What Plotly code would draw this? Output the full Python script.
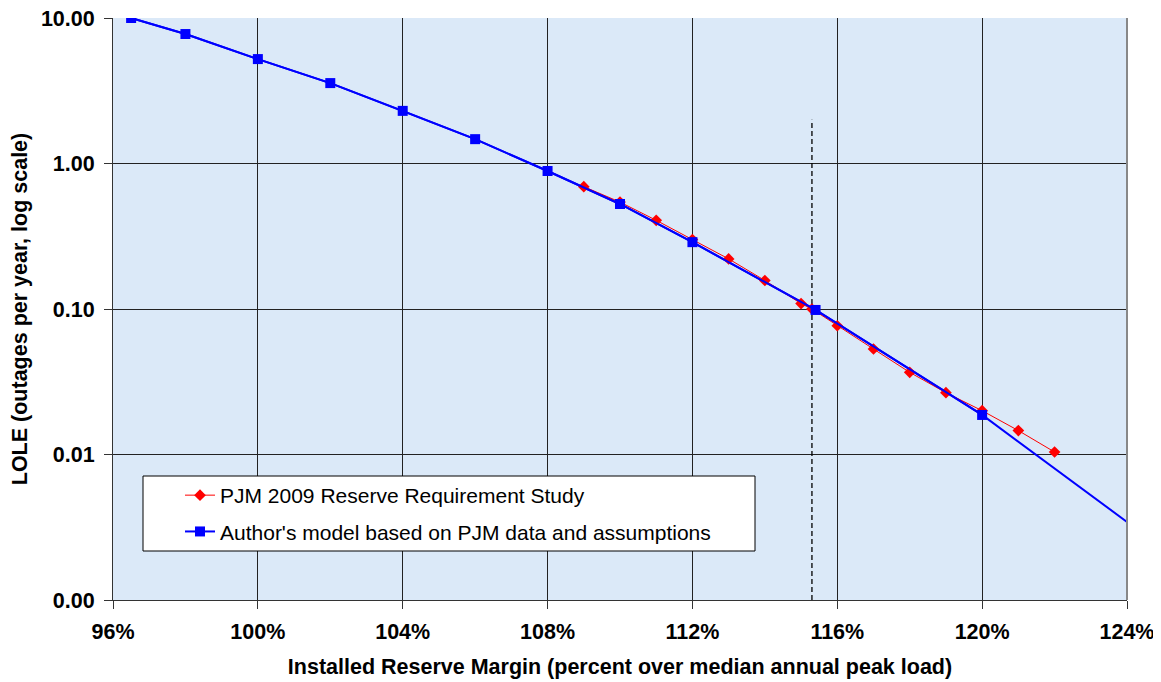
import plotly.graph_objects as go

# PJM 2009 Reserve Requirement Study (red diamonds)
pjm_x = [109, 110, 111, 112, 113, 114, 115, 115.3, 116, 117, 118, 119, 120, 121, 122]
pjm_y = [0.693, 0.543, 0.407, 0.300, 0.221, 0.157, 0.109, 0.100, 0.0767, 0.0531,
         0.0367, 0.0266, 0.0200, 0.0146, 0.0104]

# Author's model (blue squares)
model_x = [96.5, 98, 100, 102, 104, 106, 108, 110, 112, 115.4, 120]
model_y = [10.0, 7.76, 5.22, 3.57, 2.30, 1.47, 0.888, 0.527, 0.288, 0.0985, 0.0187]

# Full model curve (extends to the axis edges)
curve_x = [96] + model_x + [124]
curve_y = [10.65] + model_y + [0.00344]

# Dashed reference line (reserve requirement at LOLE 0.1)
ref_x = [115.3, 115.3]
ref_y = [0.001, 2.0]

x_ticks = [96, 100, 104, 108, 112, 116, 120, 124]
x_labels = ["96%", "100%", "104%", "108%", "112%", "116%", "120%", "124%"]
y_ticks = [0.001, 0.01, 0.1, 1, 10]
y_labels = ["0.00", "0.01", "0.10", "1.00", "10.00"]

FONT = "Arial, 'Liberation Sans', sans-serif"

# page body has an 8px margin: size the figure so the plot lands where it should
W, H = 1153, 674
L, R, T, B = 105, 34, 10, 82
PW = W - L - R
PH = H - T - B


def px_x(p):  # page pixel -> paper x
    return (p - 8 - L) / PW


def px_y(p):  # page pixel -> paper y
    return (H - B - (p - 8)) / PH


fig = go.Figure()

fig.add_trace(go.Scatter(
    x=ref_x, y=ref_y, mode="lines",
    line=dict(color="black", width=1.3, dash="5px,3px"),
    showlegend=False, hoverinfo="skip"))

fig.add_trace(go.Scatter(
    x=curve_x, y=curve_y, mode="lines",
    line=dict(color="#0000ff", width=2),
    showlegend=False, hoverinfo="skip"))

fig.add_trace(go.Scatter(
    x=pjm_x, y=pjm_y, mode="lines+markers",
    name="PJM 2009 Reserve Requirement Study",
    line=dict(color="#ff0000", width=1),
    marker=dict(symbol="diamond", size=9, color="#ff0000"),
    legendgroup="a"))

fig.add_trace(go.Scatter(
    x=model_x, y=model_y, mode="lines+markers",
    name="Author's model based on PJM data and assumptions",
    line=dict(color="#0000ff", width=2),
    marker=dict(symbol="square", size=10, color="#0000ff"),
    legendgroup="b"))

# legend box
fig.add_shape(type="rect", xref="paper", yref="paper",
              x0=px_x(143), x1=px_x(755), y0=px_y(551), y1=px_y(476),
              line=dict(color="black", width=1), fillcolor="white", layer="above")

# gray border on right of plot area
fig.add_shape(type="line", xref="paper", yref="paper", x0=1, x1=1, y0=0, y1=1,
              line=dict(color="#888", width=2))

fig.update_layout(
    width=W, height=H,
    margin=dict(l=L, r=R, t=T, b=B, autoexpand=False),
    paper_bgcolor="white",
    plot_bgcolor="#dbe9f8",
    font=dict(family=FONT, color="black"),
    showlegend=True,
    legend=dict(
        x=px_x(180), y=px_y(475),
        xanchor="left", yanchor="top",
        bgcolor="rgba(0,0,0,0)", borderwidth=0,
        font=dict(size=21, family=FONT),
        tracegroupgap=6,
    ),
    xaxis=dict(
        range=[96, 124], tickvals=x_ticks, ticktext=x_labels,
        showgrid=True, gridcolor="#222", gridwidth=1,
        ticks="outside", ticklen=8, tickcolor="#333",
        showline=True, linecolor="#333", linewidth=1, mirror=False,
        tickfont=dict(size=21.5, family=FONT, weight="bold"),
        ticklabelstandoff=4, ticklabeloverflow="allow",
        zeroline=False, automargin=False,
        title=dict(text="<b>Installed Reserve Margin (percent over median annual peak load)</b>",
                   font=dict(size=21.5, family=FONT), standoff=16),
    ),
    yaxis=dict(
        type="log", range=[-3, 1], tickvals=y_ticks, ticktext=y_labels,
        showgrid=True, gridcolor="#222", gridwidth=1,
        ticks="outside", ticklen=8, tickcolor="#333",
        showline=True, linecolor="#333", linewidth=1,
        tickfont=dict(size=21.5, family=FONT, weight="bold"),
        ticklabelstandoff=5, ticklabeloverflow="allow", automargin=False,
        title=dict(text="<b>LOLE (outages per year, log scale)</b>",
                   font=dict(size=21.5, family=FONT), standoff=20),
    ),
)

fig.write_html("out.html")
